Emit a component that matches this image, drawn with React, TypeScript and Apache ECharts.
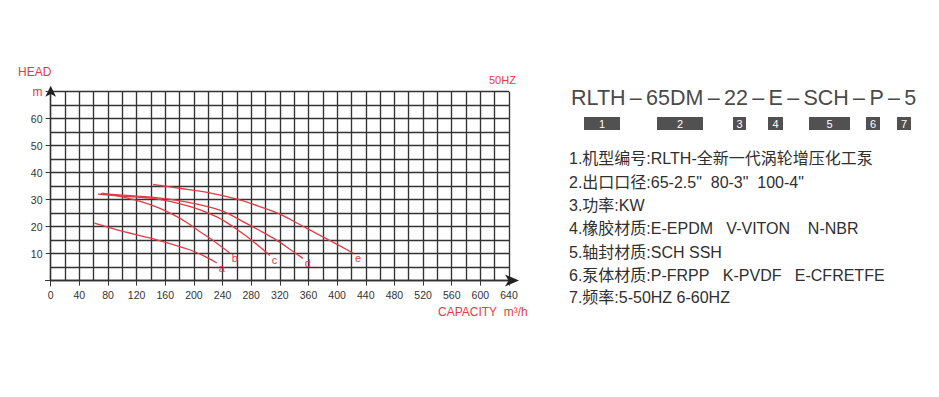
import React, { useEffect, useRef } from "react";
import * as echarts from "echarts";

// ---- data ----
const xTickValues = [0, 40, 80, 120, 160, 200, 240, 280, 320, 360, 400, 440, 480, 520, 560, 600, 640];
const yTickValues = [10, 20, 30, 40, 50, 60, 70];
const curveNames = ["a", "b", "c", "d", "e"];

const flowA = [61, 101, 148, 194, 213, 232];
const headA = [21.3, 18.2, 15.1, 11.4, 9.2, 6.5];

const flowB = [72, 100, 125, 150, 171, 190, 208, 230, 250];
const headB = [32.4, 31.0, 29.3, 27.0, 24.4, 21.5, 18.2, 14.2, 10.2];

const flowC = [66, 100, 148, 194, 220, 241, 273, 306];
const headC = [32.0, 31.3, 30.3, 27.5, 25.0, 22.3, 16.5, 9.3];

const flowD = [70, 120, 170, 218, 241, 264, 290, 311, 333, 352];
const headD = [32.2, 31.3, 30.0, 27.5, 25.6, 22.5, 18.8, 15.7, 11.8, 8.2];

const flowE = [143, 180, 220, 260, 290, 320, 357, 390, 422];
const headE = [35.6, 34.2, 32.6, 30.2, 27.6, 24.6, 19.4, 14.8, 10.2];

const modelSegments = ["RLTH", "65DM", "22", "E", "SCH", "P", "5"];
const badgeLabels = ["1", "2", "3", "4", "5", "6", "7"];
const specLines = [
  "1.机型编号:RLTH-全新一代涡轮增压化工泵",
  '2.出口口径:65-2.5"\u00a0\u00a080-3"\u00a0\u00a0100-4"',
  "3.功率:KW",
  "4.橡胶材质:E-EPDM\u00a0\u00a0\u00a0V-VITON\u00a0\u00a0\u00a0\u00a0N-NBR",
  "5.轴封材质:SCH SSH",
  "6.泵体材质:P-FRPP\u00a0\u00a0\u00a0K-PVDF\u00a0\u00a0\u00a0E-CFRETFE",
  "7.频率:5-50HZ 6-60HZ",
];

const curves = [
  [flowA, headA],
  [flowB, headB],
  [flowC, headC],
  [flowD, headD],
  [flowE, headE],
];

const RED = "#e23b45";
const GRID = "#333333";
const FONT = "'Liberation Sans', Arial, 'Noto Sans CJK SC', sans-serif";

export default function App() {
  const ref = useRef<HTMLDivElement>(null);

  useEffect(() => {
    if (!ref.current) return;
    const chart = echarts.init(ref.current, null, { renderer: "svg" });

    const series = curves.map(([fx, hy], i) => ({
      type: "line",
      name: curveNames[i],
      xAxisIndex: 0,
      yAxisIndex: 0,
      data: fx.map((q, k) => [q, hy[k]]),
      smooth: 0.3,
      showSymbol: false,
      symbol: "none",
      lineStyle: { color: RED, width: 1.3 },
      endLabel: {
        show: true,
        formatter: curveNames[i],
        color: RED,
        fontSize: 11,
        fontFamily: FONT,
        distance: 2,
        offset: [0, 5],
      },
      silent: true,
    }));

    const badgeBoxes = [
      [584, 36],
      [657, 46],
      [733, 13],
      [768, 15],
      [809, 41],
      [866, 14],
      [897, 14],
    ];

    const graphics: any[] = [
      {
        type: "text",
        left: 18,
        top: 66,
        style: { text: "HEAD", fill: RED, font: `12px ${FONT}` },
      },
      {
        type: "text",
        left: 489,
        top: 74,
        style: { text: "50HZ", fill: RED, font: `11px ${FONT}` },
      },
      {
        type: "text",
        left: 438,
        top: 306,
        style: { text: "CAPACITY\u00a0\u00a0m³/h", fill: RED, font: `12px ${FONT}` },
      },
      {
        type: "text",
        left: 571,
        top: 87,
        style: {
          text: modelSegments.join("\u2009–\u2009"),
          fill: "#4a4a4a",
          font: `21.5px ${FONT}`,
        },
      },
    ];

    badgeBoxes.forEach(([bx, bw], i) => {
      graphics.push({
        type: "rect",
        shape: { x: bx, y: 117, width: bw, height: 13 },
        style: { fill: "#515151" },
      });
      graphics.push({
        type: "text",
        x: bx + bw / 2,
        y: 123.5,
        style: {
          text: badgeLabels[i],
          fill: "#ffffff",
          font: `11px ${FONT}`,
          align: "center",
          verticalAlign: "middle",
        },
      });
    });

    const lineY = [158, 182, 205, 228, 252, 275, 297];
    specLines.forEach((t, i) => {
      graphics.push({
        type: "text",
        x: 569,
        y: lineY[i],
        style: {
          text: t,
          fill: "#2f2f2f",
          font: `16px ${FONT}`,
          verticalAlign: "middle",
        },
      });
    });

    chart.setOption({
      animation: false,
      backgroundColor: "#ffffff",
      grid: [
        { left: 50.7, right: 430, top: 91.7, bottom: 116.5 },
        { left: 45.5, right: 430, top: 91.7, bottom: 111 },
      ],
      xAxis: [
        {
          type: "value",
          gridIndex: 0,
          min: 0,
          max: 640,
          interval: 20,
          axisLabel: { show: false },
          axisTick: { show: false },
          axisLine: {
            show: true,
            lineStyle: { color: "#222", width: 1.3 },
            symbol: ["none", "arrow"],
            symbolSize: [9, 14],
            symbolOffset: [0, 10],
          },
          splitLine: { show: true, lineStyle: { color: GRID, width: 1.35 } },
        },
        {
          type: "value",
          gridIndex: 1,
          min: -7.26,
          max: 640,
          axisLine: { show: true, lineStyle: { color: "#333", width: 1 } },
          axisTick: { show: true, length: 5, customValues: xTickValues, lineStyle: { color: "#333" } },
          axisLabel: {
            customValues: xTickValues,
            color: "#333",
            fontSize: 10.5,
            fontFamily: FONT,
            margin: 4,
          },
          splitLine: { show: false },
        },
      ],
      yAxis: [
        {
          type: "value",
          gridIndex: 0,
          min: 0,
          max: 70,
          interval: 5,
          axisLabel: { show: false },
          axisTick: { show: false },
          axisLine: {
            show: true,
            lineStyle: { color: "#222", width: 1.3 },
            symbol: ["none", "arrow"],
            symbolSize: [8, 11],
            symbolOffset: [0, 6],
          },
          splitLine: { show: true, lineStyle: { color: GRID, width: 1.35 } },
        },
        {
          type: "value",
          gridIndex: 1,
          min: -2,
          max: 70,
          axisLine: { show: true, lineStyle: { color: "#333", width: 1 } },
          axisTick: { show: true, length: 5, customValues: yTickValues, lineStyle: { color: "#333" } },
          axisLabel: {
            customValues: yTickValues,
            color: "#333",
            fontSize: 10.5,
            fontFamily: FONT,
            margin: 3,
            formatter: (v: number) => (v === 70 ? "{m|m}" : String(v)),
            rich: { m: { color: RED, fontSize: 12, fontFamily: FONT } },
          },
          splitLine: { show: false },
        },
      ],
      series,
      graphic: graphics,
    });

    return () => chart.dispose();
  }, []);

  return (
    <div
      ref={ref}
      style={{ position: "absolute", left: 0, top: 0, width: 939, height: 397, background: "#fff" }}
    />
  );
}
